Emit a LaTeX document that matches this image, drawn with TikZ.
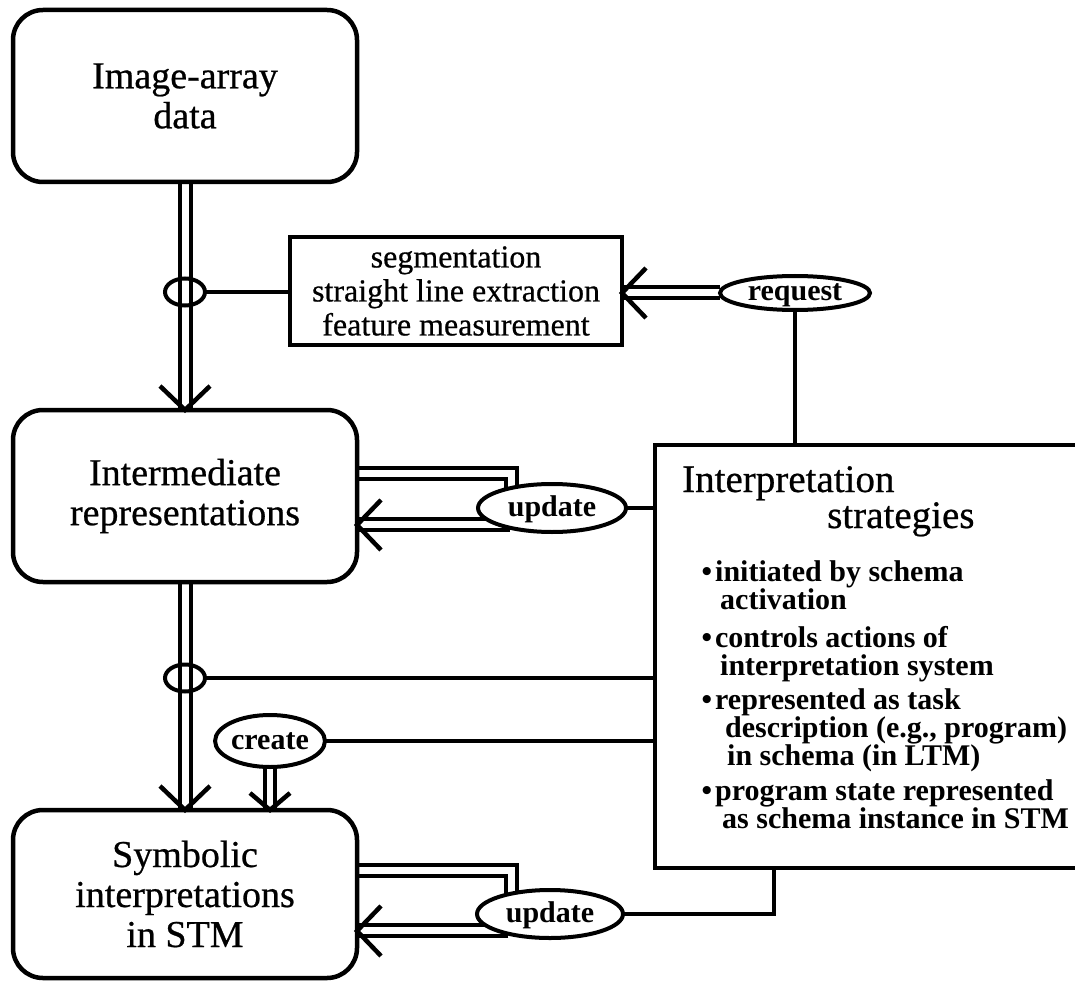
\documentclass[tikz,border=0pt]{standalone}
\usepackage{fontspec}
\setmainfont{Liberation Serif}
\newfontfamily\inkfont[FakeBold=0.6]{Liberation Serif}
\usetikzlibrary{shapes.geometric,calc}
\pgfdeclarelayer{links}
\pgfsetlayers{links,main}

\begin{document}
\begin{tikzpicture}[x=1pt,y=-1pt,
  store/.style={draw, rounded corners=30pt, line width=4.5pt, minimum width=344pt,
    minimum height=172pt, outer sep=0pt, align=center, font=\inkfont\fontsize{38}{40}\selectfont},
  proc/.style={draw, line width=4pt, outer sep=0pt, inner sep=2pt},
  act/.style={draw, ellipse, line width=4pt, fill=white, inner sep=0pt, outer sep=0pt,
    text height=17pt, text depth=1pt, font=\bfseries\fontsize{30}{30}\selectfont},
  tap/.style={draw, ellipse, line width=4pt, minimum width=40pt, minimum height=27pt,
    inner sep=0pt, outer sep=0pt},
  link/.style={line width=4pt},
  dbl/.style={line width=4pt, double, double distance=7pt},
  head/.style={line width=4.5pt, line join=miter},
  title/.style={anchor=base west, inner sep=0pt, font=\inkfont\fontsize{39}{40}\selectfont},
  bul/.style={anchor=base west, inner sep=0pt, align=left, font=\bfseries\fontsize{30}{28}\selectfont},
  vdown/.pic={\draw[head] (-25,-24) -- (0,0) -- (25,-24);},
  vdownsmall/.pic={\draw[head] (-20,-17) -- (0,0) -- (20,-17);},
  vleft/.pic={\draw[head] (24,-25) -- (0,0) -- (24,25);},
]
\useasboundingbox (0,0) rectangle (1075,981);

% data stores
\node[store] (img) at (185,96) {Image-array\\data};
\node[store] (inter) at (185,496) {Intermediate\\representations};
\node[store, minimum height=168pt] (sym) at (185,894) {Symbolic\\interpretations\\in STM};

% low-level processing
\node[proc, minimum width=332pt, minimum height=108pt, align=center,
  font=\inkfont\fontsize{32}{34}\selectfont] (seg) at (456,291)
  {segmentation\\straight line extraction\\feature measurement};

% taps on the data flow
\node[tap] (tap1) at (185,292) {};
\node[tap] (tap2) at (185,678) {};

% actions
\node[act, minimum width=150pt, minimum height=34pt] (req) at (795,293) {request};
\node[act, minimum width=148pt, minimum height=48pt] (upd1) at (552,508) {update};
\node[act, minimum width=146pt, minimum height=48pt] (upd2) at (550,914) {update};
\node[act, minimum width=100pt, minimum height=52pt] (crt) at (270,741) {create};

% interpretation strategies (last-line baselines)
\node[proc, minimum width=435pt, minimum height=423pt] (strat) at (872.5,656.5) {};
\node[title] (st1) at (682,492) {Interpretation};
\node[title] (st2) at (827,528) {strategies};
\node[bul] (b1) at (715,609) {\llap{\textbullet\hspace{3pt}}initiated by schema\\\hspace*{5pt}activation};
\node[bul] (b2) at (715,675) {\llap{\textbullet\hspace{3pt}}controls actions of\\\hspace*{5pt}interpretation system};
\node[bul] (b3) at (715,765) {\llap{\textbullet\hspace{3pt}}represented as task\\\hspace*{10pt}description (e.g., program)\\\hspace*{12pt}in schema (in LTM)};
\node[bul] (b4) at (715,828) {\llap{\textbullet\hspace{3pt}}program state represented\\\hspace*{7pt}as schema instance in STM};

\begin{pgfonlayer}{links}
  % main data flow
  \draw[dbl] (img.south) -- (inter.north);
  \pic at (inter.north) {vdown};
  \draw[dbl] (inter.south) -- (sym.north);
  \pic at (sym.north) {vdown};

  % processing request
  \draw[link] (tap1.east) -- (tap1.east -| seg.west);
  \draw[dbl] (req.west) -- (req.west -| seg.east);
  \pic at (req.west -| seg.east) {vleft};
  \draw[link] (req.south) -- (req.south |- strat.north);

  % update of intermediate representations
  \draw[dbl] ([yshift=23pt]inter.east) -| ([xshift=-41pt,yshift=-8pt]upd1.north);
  \draw[dbl] ([xshift=10pt]upd1.south west) -- (upd1.south west -| inter.east);
  \pic at (upd1.south west -| inter.east) {vleft};
  \draw[link] (upd1.east) -- (upd1.east -| strat.west);

  % control of the second stage
  \draw[link] (tap2.east) -- (tap2.east -| strat.west);
  \draw[link] (crt.east) -- (crt.east -| strat.west);
  \draw[dbl, line width=3.5pt, double distance=6.5pt] (crt.south) -- (crt.south |- sym.north);
  \pic at (crt.south |- sym.north) {vdownsmall};

  % update of symbolic interpretations
  \draw[dbl] ([yshift=24pt]sym.east) -| ([xshift=-39pt,yshift=-8pt]upd2.north);
  \draw[dbl] ([xshift=10pt]upd2.south west) -- (upd2.south west -| sym.east);
  \pic at (upd2.south west -| sym.east) {vleft};
  \draw[link] (upd2.east) -| ([xshift=-98.5pt]strat.south);
\end{pgfonlayer}
\end{tikzpicture}
\end{document}
